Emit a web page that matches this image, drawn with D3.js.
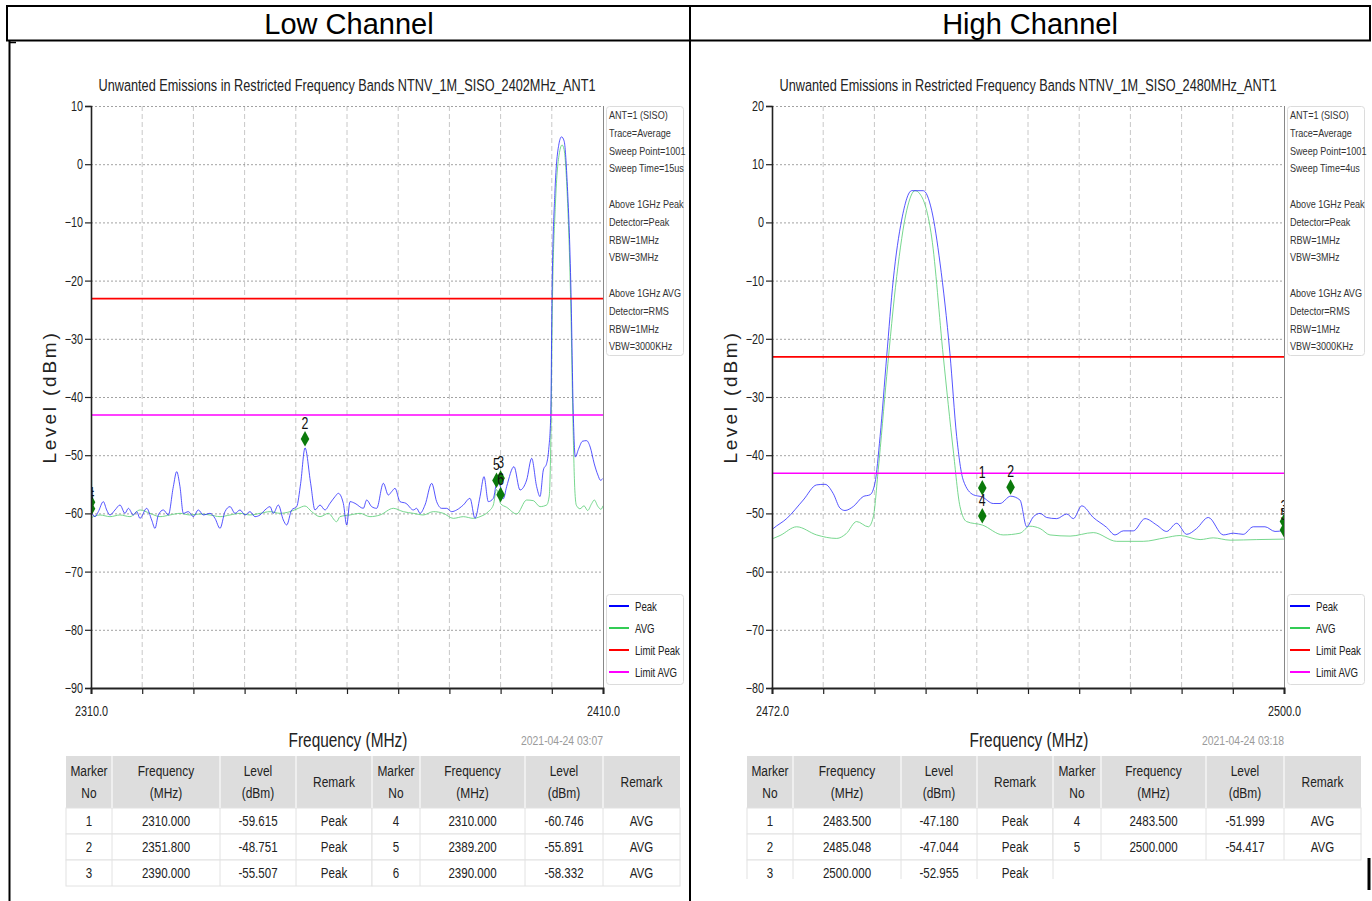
<!DOCTYPE html>
<html>
<head>
<meta charset="utf-8">
<script src="https://cdn.jsdelivr.net/npm/d3@7"></script>
<style>
  html, body { margin: 0; padding: 0; background: #fff; }
  svg { display: block; font-family: "Liberation Sans", Arial, sans-serif; }
</style>
</head>
<body>
<svg id="page" width="1372" height="901"></svg>
<script>
// ---- Low channel (2402 MHz) spectrum traces: [frequency MHz, level dBm] ----
const lowPeak = [
  [2310.0, -59.615], [2310.78, -60.56], [2311.43, -59.70], [2312.41, -57.98], [2313.06, -59.41],
  [2313.71, -60.27], [2314.69, -59.41], [2315.66, -58.56], [2316.64, -59.99], [2317.29, -59.13],
  [2318.27, -60.27], [2318.92, -59.70], [2319.57, -60.85], [2320.87, -59.13], [2321.85, -61.13],
  [2322.5, -62.57], [2323.15, -60.27], [2324.13, -59.41], [2325.1, -60.27], [2326.08, -55.41],
  [2326.73, -52.83], [2327.38, -55.41], [2328.03, -59.99], [2329.01, -59.70], [2329.99, -60.56],
  [2330.96, -59.41], [2331.94, -60.27], [2333.24, -59.99], [2334.22, -60.85], [2335.2, -62.57],
  [2336.17, -59.70], [2337.15, -58.84], [2338.13, -59.99], [2339.1, -59.41], [2340.08, -60.27],
  [2341.05, -59.70], [2342.03, -60.56], [2343.01, -60.27], [2343.98, -59.41], [2344.96, -58.84],
  [2345.61, -59.99], [2346.59, -58.56], [2347.56, -61.13], [2348.22, -61.99], [2349.19, -59.41],
  [2350.17, -58.84], [2350.95, -54.83], [2351.8, -48.751], [2352.9, -54.83], [2353.75, -59.41],
  [2354.73, -58.56], [2355.7, -59.41], [2356.68, -58.27], [2357.66, -57.12], [2358.31, -56.55],
  [2359.28, -58.27], [2359.94, -61.99], [2360.59, -57.98], [2361.56, -58.27], [2363.19, -59.13],
  [2363.84, -57.70], [2364.82, -58.84], [2365.79, -59.13], [2367.1, -54.83], [2368.07, -56.84],
  [2368.72, -56.26], [2369.38, -55.69], [2370.35, -57.98], [2371.52, -58.27], [2372.96, -59.41],
  [2373.61, -59.13], [2374.26, -59.99], [2375.24, -58.55], [2376.54, -54.83], [2377.51, -57.98],
  [2378.49, -59.13], [2379.47, -59.13], [2380.44, -59.70], [2381.42, -59.41], [2382.72, -58.55],
  [2384.02, -57.41], [2385.0, -60.85], [2385.98, -57.12], [2386.76, -53.69], [2387.6, -57.98],
  [2388.58, -57.41], [2389.3, -54.6], [2390.0, -55.507], [2390.53, -57.5], [2391.18, -55.4],
  [2392.62, -51.97], [2393.79, -55.98], [2395.09, -54.26], [2396.07, -50.54], [2397.04, -55.4],
  [2397.7, -57.1], [2398.35, -52.54], [2399.0, -51.4], [2399.4, -49.0], [2399.8, -43.0],
  [2400.05, -22.0], [2400.6, -5.0], [2401.4, 3.5], [2401.9, 4.7], [2402.4, 4.0],
  [2403.0, -3.0], [2403.75, -22.0], [2404.2, -43.0], [2404.6, -50.3], [2405.2, -49.0],
  [2406.0, -47.6], [2406.8, -47.5], [2407.5, -48.6], [2408.3, -51.5], [2409.0, -53.4],
  [2409.5, -54.3], [2410.0, -54.0]
];
const lowAvg = [
  [2310.0, -60.746], [2311.76, -60.27], [2313.71, -60.56], [2315.66, -60.27], [2317.62, -60.56],
  [2319.57, -59.41], [2321.52, -59.99], [2323.48, -60.56], [2325.43, -60.27], [2327.38, -59.99],
  [2329.34, -60.27], [2331.29, -60.10], [2333.24, -60.27], [2335.2, -60.56], [2337.15, -60.27],
  [2339.1, -59.99], [2341.05, -60.27], [2343.01, -59.99], [2344.96, -59.70], [2346.91, -59.99],
  [2348.87, -59.70], [2350.49, -59.13], [2351.8, -58.73], [2353.1, -59.70], [2354.73, -60.56],
  [2356.35, -59.99], [2357.98, -61.42], [2358.63, -60.56], [2360.59, -60.27], [2362.54, -59.99],
  [2364.49, -60.56], [2366.45, -60.27], [2369.05, -59.13], [2371.0, -59.70], [2372.96, -59.99],
  [2374.91, -60.27], [2376.86, -59.70], [2378.82, -59.99], [2380.77, -60.85], [2382.72, -60.56],
  [2384.67, -60.85], [2385.98, -60.56], [2387.6, -59.70], [2388.58, -58.55], [2389.2, -55.891],
  [2390.0, -58.332], [2391.18, -58.95], [2393.14, -60.10], [2395.09, -57.70], [2396.39, -57.81],
  [2397.7, -58.84], [2399.0, -58.55], [2399.5, -57.0], [2399.85, -45.0], [2400.1, -25.0],
  [2400.7, -7.0], [2401.5, 2.0], [2402.0, 3.3], [2402.4, 2.5], [2403.0, -5.0],
  [2403.7, -24.0], [2404.15, -45.0], [2404.5, -56.0], [2404.8, -58.6], [2405.5, -59.2],
  [2406.3, -58.7], [2407.0, -59.5], [2407.8, -58.3], [2408.3, -57.7], [2409.0, -58.8],
  [2409.6, -59.3], [2410.0, -58.7]
];

// ---- High channel (2480 MHz) spectrum traces ----
const highPeak = [
  [2472.0, -52.8], [2472.07, -52.6], [2472.8, -50.9], [2473.71, -47.7], [2474.44, -45.1],
  [2474.9, -45.0], [2475.35, -46.6], [2475.72, -49.1], [2475.99, -49.5], [2476.45, -48.8],
  [2476.99, -47.1], [2477.36, -46.8], [2477.63, -44.8], [2477.91, -36.8], [2478.27, -23.1],
  [2478.63, -9.9], [2479.09, 0.4], [2479.64, 5.45], [2480.27, 5.45], [2480.73, 2.1],
  [2481.19, -7.0], [2481.73, -22.5], [2482.1, -36.8], [2482.46, -44.3], [2483.01, -46.8],
  [2483.5, -47.18], [2484.1, -48.3], [2484.47, -48.3], [2485.048, -47.044], [2485.56, -47.7],
  [2485.93, -52.3], [2486.29, -50.6], [2486.66, -50.0], [2487.02, -50.7], [2487.57, -50.9],
  [2488.12, -50.1], [2488.48, -50.9], [2488.94, -48.7], [2489.57, -50.7], [2490.3, -52.4],
  [2490.76, -53.7], [2491.21, -53.0], [2491.76, -53.0], [2492.4, -50.9], [2493.04, -52.0],
  [2493.58, -53.1], [2494.13, -51.7], [2494.68, -53.6], [2495.22, -52.6], [2495.86, -50.7],
  [2496.68, -53.7], [2497.23, -53.4], [2497.77, -53.6], [2498.32, -52.3], [2498.96, -52.3],
  [2499.51, -53.1], [2500.0, -52.955]
];
const highAvg = [
  [2472.0, -54.4], [2472.07, -54.3], [2472.44, -53.8], [2473.35, -52.3], [2474.44, -53.7],
  [2475.54, -54.3], [2476.05, -53.5], [2476.63, -51.4], [2477.27, -52.3], [2477.54, -50.6],
  [2477.81, -42.5], [2478.27, -26.5], [2478.82, -9.3], [2479.37, 2.1], [2479.82, 5.45],
  [2480.19, 4.4], [2480.73, -2.5], [2481.37, -23.1], [2481.91, -39.1], [2482.28, -48.8],
  [2482.64, -51.4], [2483.5, -51.999], [2484.64, -53.7], [2485.56, -53.4], [2486.1, -52.2],
  [2486.66, -52.6], [2487.2, -53.7], [2488.3, -53.9], [2489.57, -53.3], [2490.85, -54.8],
  [2492.3, -54.8], [2493.48, -54.2], [2494.31, -53.8], [2495.41, -54.5], [2496.13, -54.2],
  [2497.05, -54.6], [2498.51, -54.5], [2500.0, -54.417]
];

// ---- Marker readouts ----
const lowMarkers = [
  { no: 1, freq: 2310.000, level: -59.615, remark: "Peak" },
  { no: 2, freq: 2351.800, level: -48.751, remark: "Peak" },
  { no: 3, freq: 2390.000, level: -55.507, remark: "Peak" },
  { no: 4, freq: 2310.000, level: -60.746, remark: "AVG" },
  { no: 5, freq: 2389.200, level: -55.891, remark: "AVG" },
  { no: 6, freq: 2390.000, level: -58.332, remark: "AVG" }
];
const highMarkers = [
  { no: 1, freq: 2483.500, level: -47.180, remark: "Peak" },
  { no: 2, freq: 2485.048, level: -47.044, remark: "Peak" },
  { no: 3, freq: 2500.000, level: -52.955, remark: "Peak" },
  { no: 4, freq: 2483.500, level: -51.999, remark: "AVG" },
  { no: 5, freq: 2500.000, level: -54.417, remark: "AVG" }
];

// ---- Limits (dBm) ----
const lowLimits = { peak: -23.1, avg: -43.1 };
const highLimits = { peak: -23.1, avg: -43.1 };

// ---- Axes ----
const lowXTicks = [2310, 2320, 2330, 2340, 2350, 2360, 2370, 2380, 2390, 2400, 2410];
const highXTicks = [2472, 2474.8, 2477.6, 2480.4, 2483.2, 2486, 2488.8, 2491.6, 2494.4, 2497.2, 2500];
const lowXLabels = ["2310.0", "2410.0"];
const highXLabels = ["2472.0", "2500.0"];
const lowYTicks = [10, 0, -10, -20, -30, -40, -50, -60, -70, -80, -90];
const highYTicks = [20, 10, 0, -10, -20, -30, -40, -50, -60, -70, -80];

// ---- Text blocks ----
const lowTitle = "Unwanted Emissions in Restricted Frequency Bands NTNV_1M_SISO_2402MHz_ANT1";
const highTitle = "Unwanted Emissions in Restricted Frequency Bands NTNV_1M_SISO_2480MHz_ANT1";
const lowInfo = ["ANT=1 (SISO)", "Trace=Average", "Sweep Point=1001", "Sweep Time=15us", "",
  "Above 1GHz Peak", "Detector=Peak", "RBW=1MHz", "VBW=3MHz", "",
  "Above 1GHz AVG", "Detector=RMS", "RBW=1MHz", "VBW=3000KHz"];
const highInfo = ["ANT=1 (SISO)", "Trace=Average", "Sweep Point=1001", "Sweep Time=4us", "",
  "Above 1GHz Peak", "Detector=Peak", "RBW=1MHz", "VBW=3MHz", "",
  "Above 1GHz AVG", "Detector=RMS", "RBW=1MHz", "VBW=3000KHz"];
const legendItems = [
  { label: "Peak", color: "#0000ff" },
  { label: "AVG", color: "#33cc55" },
  { label: "Limit Peak", color: "#ff0000" },
  { label: "Limit AVG", color: "#ff00ff" }
];
const tableHeaders = [["Marker", "No"], ["Frequency", "(MHz)"], ["Level", "(dBm)"], ["Remark"],
  ["Marker", "No"], ["Frequency", "(MHz)"], ["Level", "(dBm)"], ["Remark"]];

// condensed lettering: horizontal squeeze applied to chart texts
const SQUEEZE = 0.77;

const svg = d3.select("#page");
svg.append("rect").attr("width", 1372).attr("height", 901).attr("fill", "#fff");

function ntext(parent, x, y, str, size, anchor, fill) {
  return parent.append("text")
    .attr("transform", `translate(${x},${y}) scale(${SQUEEZE},1)`)
    .attr("font-size", size).attr("text-anchor", anchor || "start")
    .attr("fill", fill || "#222").text(str);
}

// ---- Document cell frame ----
const frame = svg.append("g").attr("stroke", "#000").attr("fill", "none");
frame.append("line").attr("x1", 6).attr("x2", 1371).attr("y1", 6).attr("y2", 6).attr("stroke-width", 2);
frame.append("line").attr("x1", 6).attr("x2", 1371).attr("y1", 40.5).attr("y2", 40.5).attr("stroke-width", 2);
frame.append("line").attr("x1", 7).attr("x2", 7).attr("y1", 6).attr("y2", 41).attr("stroke-width", 2);
frame.append("line").attr("x1", 9.5).attr("x2", 9.5).attr("y1", 41).attr("y2", 901).attr("stroke-width", 2);
frame.append("line").attr("x1", 9).attr("x2", 16).attr("y1", 42.5).attr("y2", 42.5).attr("stroke-width", 1.5);
frame.append("line").attr("x1", 690).attr("x2", 690).attr("y1", 6).attr("y2", 901).attr("stroke-width", 2);
frame.append("line").attr("x1", 1370).attr("x2", 1370).attr("y1", 6).attr("y2", 41).attr("stroke-width", 2);
frame.append("line").attr("x1", 1369).attr("x2", 1369).attr("y1", 858).attr("y2", 890).attr("stroke-width", 3);

svg.append("text").attr("x", 349).attr("y", 34)
  .attr("text-anchor", "middle").attr("font-size", 29).attr("fill", "#000").text("Low Channel");
svg.append("text").attr("x", 1030).attr("y", 34)
  .attr("text-anchor", "middle").attr("font-size", 29).attr("fill", "#000").text("High Channel");

const fmtTick = d => (d < 0 ? "\u2212" + Math.abs(d) : String(d));

function drawPanel(cfg) {
  const g = svg.append("g");
  const left = cfg.left, right = cfg.left + 512, top = 106, bottom = 688;
  const x = d3.scaleLinear().domain(cfg.xDomain).range([left, right]);
  const y = d3.scaleLinear().domain(cfg.yDomain).range([bottom, top]);
  const clipId = "clip-" + cfg.id;
  g.append("clipPath").attr("id", clipId).append("rect")
    .attr("x", left).attr("y", top).attr("width", right - left).attr("height", bottom - top);

  // title
  ntext(g, (left + right) / 2, 91, cfg.title, 16.5, "middle", "#222");

  // grid
  g.append("g").selectAll("line").data(cfg.xTicks.slice(1, -1)).join("line")
    .attr("x1", d => x(d)).attr("x2", d => x(d)).attr("y1", top).attr("y2", bottom)
    .attr("stroke", "#c8c8c8").attr("stroke-dasharray", "5,3").attr("stroke-width", 1);
  g.append("g").selectAll("line").data(cfg.yTicks).join("line")
    .attr("x1", left).attr("x2", right).attr("y1", d => y(d) + 0.5).attr("y2", d => y(d) + 0.5)
    .attr("stroke", "#8a8a8a").attr("stroke-dasharray", "2,2").attr("stroke-width", 0.8);

  // right border of plot area
  g.append("line").attr("x1", right + 0.5).attr("x2", right + 0.5).attr("y1", top).attr("y2", bottom)
    .attr("stroke", "#888").attr("stroke-width", 1);

  // traces
  const line = d3.line().x(d => x(d[0])).y(d => y(d[1])).curve(d3.curveMonotoneX);
  const traces = g.append("g").attr("clip-path", `url(#${clipId})`);
  traces.append("path").datum(cfg.avg).attr("d", line).attr("fill", "none")
    .attr("stroke", "#5fd07a").attr("stroke-opacity", 0.85).attr("stroke-width", 1);
  traces.append("path").datum(cfg.peak).attr("d", line).attr("fill", "none")
    .attr("stroke", "#2b2bff").attr("stroke-opacity", 0.8).attr("stroke-width", 1);

  // limit lines
  traces.append("line").attr("x1", left).attr("x2", right)
    .attr("y1", y(cfg.limits.peak)).attr("y2", y(cfg.limits.peak))
    .attr("stroke", "#ff0000").attr("stroke-width", 1.6);
  traces.append("line").attr("x1", left).attr("x2", right)
    .attr("y1", y(cfg.limits.avg)).attr("y2", y(cfg.limits.avg))
    .attr("stroke", "#ff00ff").attr("stroke-width", 1.6);

  // markers
  const mk = g.append("g").attr("clip-path", `url(#${clipId})`);
  const mg = mk.selectAll("g").data(cfg.markers).join("g")
    .attr("transform", d => `translate(${x(d.freq)},${y(d.level)})`);
  mg.append("path").attr("d", "M0,-17 L4.3,-9 L0,-1.5 L-4.3,-9 Z").attr("fill", "#0b7a0b");
  mg.each(function (d) { ntext(d3.select(this), 0, -19, d.no, 16, "middle", "#111"); });

  // axes
  const xAxis = d3.axisBottom(x).tickValues(cfg.xTicks).tickSize(6)
    .tickFormat((d, i) => i === 0 ? cfg.xLabels[0] : (i === cfg.xTicks.length - 1 ? cfg.xLabels[1] : ""));
  const xa = g.append("g").attr("transform", `translate(0,${bottom})`).call(xAxis);
  xa.attr("font-family", null).attr("font-size", null);
  xa.select(".domain").attr("stroke", "#222").attr("stroke-width", 2);
  xa.selectAll(".tick line").attr("stroke", "#222").attr("stroke-width", 1.2);
  xa.selectAll(".tick text").attr("font-size", 14).attr("fill", "#222")
    .attr("y", 24).attr("dy", "0.32em").attr("transform", `scale(${SQUEEZE},1)`);

  const yAxis = d3.axisLeft(y).tickValues(cfg.yTicks).tickSize(6).tickFormat(fmtTick);
  const ya = g.append("g").attr("transform", `translate(${left},0)`).call(yAxis);
  ya.attr("font-family", null).attr("font-size", null);
  ya.select(".domain").attr("stroke", "#222").attr("stroke-width", 1.6);
  ya.selectAll(".tick line").attr("stroke", "#222").attr("stroke-width", 1.2);
  ya.selectAll(".tick text").attr("font-size", 14).attr("fill", "#222")
    .attr("x", -8 / SQUEEZE).attr("transform", `scale(${SQUEEZE},1)`);

  // axis titles
  g.append("text")
    .attr("transform", `translate(${left - 35},${(top + bottom) / 2}) rotate(-90)`)
    .attr("text-anchor", "middle").attr("font-size", 19).attr("letter-spacing", 2.8)
    .attr("fill", "#222").text("Level (dBm)");
  ntext(g, (left + right) / 2 + 1, 747, "Frequency (MHz)", 20, "middle", "#222");
  ntext(g, right, 745, cfg.date, 13.5, "end", "#9a9a9a");

  // info box
  const bx = right + 3;
  g.append("rect").attr("x", bx + 0.5).attr("y", 106.5).attr("width", 77).attr("height", 249).attr("rx", 3)
    .attr("fill", "#fff").attr("stroke", "#dcdcdc");
  cfg.info.forEach((s, i) => ntext(g, bx + 3, 119 + i * 17.8, s, 11.8, "start", "#333"));

  // legend box
  g.append("rect").attr("x", bx + 0.5).attr("y", 594.5).attr("width", 77).attr("height", 90).attr("rx", 3)
    .attr("fill", "#fff").attr("stroke", "#dcdcdc");
  const lg = g.append("g").selectAll("g").data(legendItems).join("g")
    .attr("transform", (d, i) => `translate(${bx + 3},${606 + i * 22})`);
  lg.append("line").attr("x1", 0).attr("x2", 20).attr("stroke", d => d.color).attr("stroke-width", 2);
  lg.each(function (d) { ntext(d3.select(this), 26, 4.5, d.label, 12.5, "start", "#222"); });

  // marker table
  const colW = [46, 108, 76, 76, 48, 105, 78, 77];
  const colX = [cfg.tableLeft];
  colW.forEach(w => colX.push(colX[colX.length - 1] + w));
  const tTop = 756, hH = 52, rH = 26;
  const tbl = g.append("g");
  if (cfg.tableClip) {
    const tid = "tclip-" + cfg.id;
    tbl.append("clipPath").attr("id", tid).append("rect")
      .attr("x", 0).attr("y", 0).attr("width", 1372).attr("height", cfg.tableClip);
    tbl.attr("clip-path", `url(#${tid})`);
  }
  tbl.append("rect").attr("x", colX[0]).attr("y", tTop).attr("width", colX[8] - colX[0]).attr("height", hH)
    .attr("fill", "#dddddd");
  const nRows = Math.ceil(cfg.markers.length / 2);
  const rows = d3.range(nRows).map(r => [cfg.markers[r], cfg.markers[r + nRows]]);
  rows.forEach((pair, r) => {
    const ry = tTop + hH + r * rH;
    pair.forEach((m, side) => {
      if (!m) return;
      const c0 = side * 4;
      tbl.append("rect").attr("x", colX[c0]).attr("y", ry).attr("width", colX[c0 + 4] - colX[c0]).attr("height", rH)
        .attr("fill", "#fff").attr("stroke", "#e2e2e2");
      for (let c = 1; c < 4; c++) {
        tbl.append("line").attr("x1", colX[c0 + c]).attr("x2", colX[c0 + c]).attr("y1", ry).attr("y2", ry + rH)
          .attr("stroke", "#e2e2e2");
      }
      const vals = [String(m.no), m.freq.toFixed(3), m.level.toFixed(3), m.remark];
      vals.forEach((v, c) => {
        ntext(tbl, (colX[c0 + c] + colX[c0 + c + 1]) / 2, ry + 18, v, 15, "middle", "#222");
      });
    });
  });
  for (let c = 1; c < 8; c++) {
    tbl.append("line").attr("x1", colX[c]).attr("x2", colX[c]).attr("y1", tTop).attr("y2", tTop + hH)
      .attr("stroke", "#f4f4f4").attr("stroke-width", 1.5);
  }
  tableHeaders.forEach((lines, c) => {
    const cx = (colX[c] + colX[c + 1]) / 2;
    if (lines.length === 1) {
      ntext(tbl, cx, tTop + 31, lines[0], 15.5, "middle", "#222");
    } else {
      lines.forEach((s, k) => ntext(tbl, cx, tTop + 20 + k * 22, s, 15.5, "middle", "#222"));
    }
  });
}

drawPanel({
  id: "low", left: 91, xDomain: [2310, 2410], yDomain: [-90, 10],
  xTicks: lowXTicks, xLabels: lowXLabels, yTicks: lowYTicks,
  peak: lowPeak, avg: lowAvg, limits: lowLimits, markers: lowMarkers,
  title: lowTitle, info: lowInfo, date: "2021-04-24 03:07", tableLeft: 66
});
drawPanel({
  id: "high", left: 772, xDomain: [2472, 2500], yDomain: [-80, 20],
  xTicks: highXTicks, xLabels: highXLabels, yTicks: highYTicks,
  peak: highPeak, avg: highAvg, limits: highLimits, markers: highMarkers,
  title: highTitle, info: highInfo, date: "2021-04-24 03:18", tableLeft: 747, tableClip: 879
});
</script>
</body>
</html>
